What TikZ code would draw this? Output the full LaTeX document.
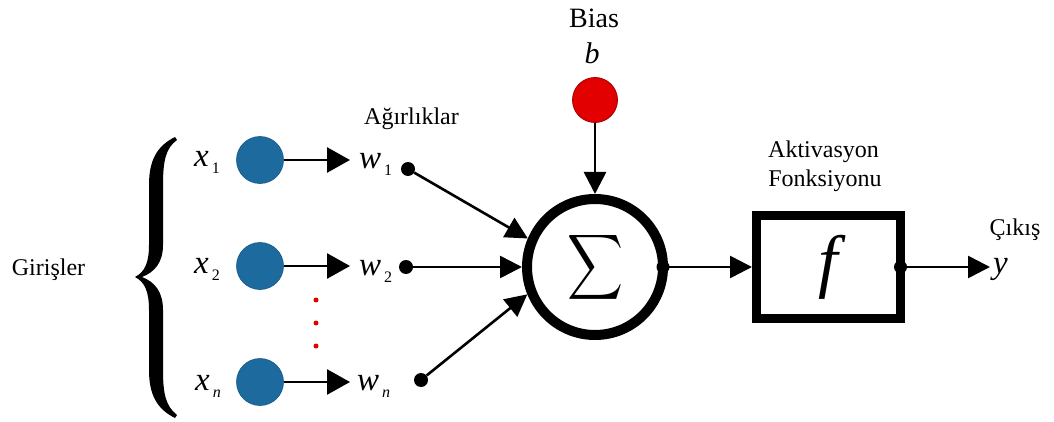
\documentclass[tikz,border=0pt]{standalone}
\usepackage{fontspec}
\setmainfont{Liberation Serif}
\usetikzlibrary{arrows.meta,calc}
\definecolor{nblue}{RGB}{28,106,158}
\definecolor{nred}{RGB}{226,0,0}
\newcommand\mysub[1]{\hspace{3pt}\raisebox{-7pt}{\fontsize{16}{16}\selectfont\upshape #1}}
\begin{document}
\begin{tikzpicture}[x=1pt,y=-1pt,
  inp/.style={circle, fill=nblue, draw=nblue!85!black, line width=0.6pt, minimum size=47pt, inner sep=0pt},
  wdot/.style={circle, fill=black, minimum size=14pt, inner sep=0pt},
  rdot/.style={circle, fill=nred, minimum size=5pt, inner sep=0pt},
  conn/.style={line width=2.6pt, -{Triangle[length=23pt,width=25pt]}},
  conn2/.style={line width=2.6pt, -{Triangle[length=22pt,width=22pt]}},
  lbl/.style={inner sep=0pt, anchor=base, font=\fontsize{24}{28}\selectfont},
  var/.style={inner sep=0pt, anchor=base west, font=\fontsize{33}{36}\selectfont\itshape}]
\useasboundingbox (0,0) rectangle (1054,422);

% brace
\fill (175,137) .. controls (157,146) and (149,160) .. (149,185) -- (149,245)
  .. controls (149,262) and (145,272) .. (135,277)
  .. controls (145,282) and (149,292) .. (149,310) -- (149,370)
  .. controls (149,395) and (157,409) .. (175,418) -- (177,415)
  .. controls (166,406) and (163,395) .. (163,370) -- (163,310)
  .. controls (163,292) and (155,282) .. (142,277)
  .. controls (155,272) and (163,262) .. (163,245) -- (163,185)
  .. controls (163,160) and (166,148) .. (177,140) -- cycle;

\node[lbl] (gir) at (48.5,275) {Girişler};

% inputs
\node[inp] (x1c) at (260,160) {};
\node[inp] (x2c) at (260,266) {};
\node[inp] (xnc) at (260,382) {};
\node[var] (x1l) at (194,167) {x\mysub{1}};
\node[var] (x2l) at (194,273) {x\mysub{2}};
\node[var] (xnl) at (195,390) {x\mysub{\itshape n}};

\node[rdot] (d1) at (316,300) {};
\node[rdot] (d2) at (316,323) {};
\node[rdot] (d3) at (316,346) {};

\coordinate (a1) at (350,160);
\coordinate (a2) at (350,266);
\coordinate (an) at (350,382);
\draw[conn] (x1c) -- (a1);
\draw[conn] (x2c) -- (a2);
\draw[conn] (xnc) -- (an);

% weights
\node[var] (w1l) at (359,168) {w\mysub{1}};
\node[var] (w2l) at (359,275) {w\mysub{2}};
\node[var] (wnl) at (357,390) {w\mysub{\itshape n}};
\node[lbl] (agr) at (411.5,125) {Ağırlıklar};
\node[wdot] (w1d) at (408,169) {};
\node[wdot] (w2d) at (406,267) {};
\node[wdot] (wnd) at (421,380) {};

% summation
\node[circle, draw, fill=white, line width=10pt, minimum size=136pt, inner sep=0pt] (sig) at (595,267)
  {\resizebox*{56pt}{73pt}{$\displaystyle\sum$}};
\draw[conn2] (w1d) -- (sig.157);
\draw[conn2] (w2d) -- (sig.west);
\draw[conn2] (wnd) -- (sig.202);

% bias
\node[lbl, font=\fontsize{28}{32}\selectfont] (biasl) at (594,28) {Bias};
\node[lbl, font=\fontsize{30}{34}\selectfont\itshape] (bl) at (592,64) {b};
\node[circle, fill=nred, draw=nred!70!black, line width=0.8pt, minimum size=45pt, inner sep=0pt] (bc) at (595,100) {};
\draw[conn2] (bc.south) -- (sig.north);

% activation
\node[rectangle, draw, line width=9pt, minimum width=144pt, minimum height=103pt, inner sep=0pt,
  font=\fontsize{70}{70}\selectfont\itshape] (fbox) at (828.5,267) {f};
\node[lbl] (akt) at (823.5,158) {Aktivasyon};
\node[lbl] (fon) at (825,186) {Fonksiyonu};

\coordinate (sdot) at ($(sig.east)+(-5,0)$);
\fill (sdot) circle (6.5pt);
\draw[conn2] (sdot) -- (fbox.west);

\coordinate (odot) at ($(fbox.east)+(-4.5,0)$);
\fill (odot) circle (6.5pt);
\coordinate (yt) at (990,267);
\draw[conn2] (odot) -- (yt);

\node[var, font=\fontsize{33}{36}\selectfont\itshape] (yl) at (993,273) {y};
\node[lbl] (cik) at (1015,235) {Çıkış};
\end{tikzpicture}
\end{document}
